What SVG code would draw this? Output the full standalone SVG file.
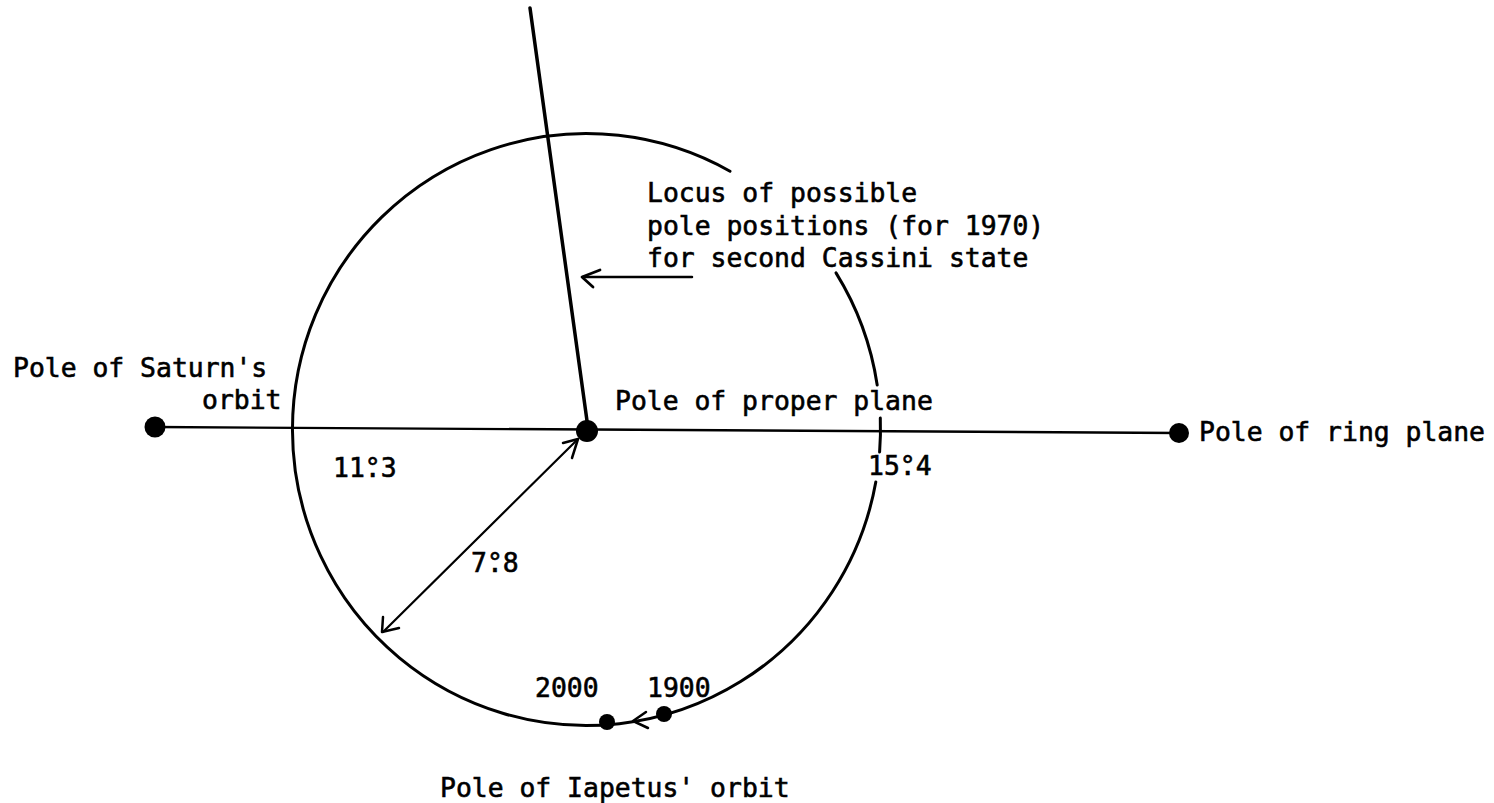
<svg xmlns="http://www.w3.org/2000/svg" width="1494" height="803" viewBox="0 0 1494 803">
<style>
text{font-family:"DejaVu Sans Mono","Liberation Mono",monospace;font-size:26.4px;fill:#000;stroke:#000;stroke-width:0.6px}
.ln{stroke:#000;fill:none;stroke-linecap:round;stroke-linejoin:round}
</style>
<rect width="1494" height="803" fill="#fff"/>
<g id="connectors">
<line class="ln" x1="155" y1="427" x2="1178" y2="433" stroke-width="2.4"/>
<line class="ln" x1="530" y1="8" x2="588" y2="428" stroke-width="3.5"/>
<polyline class="ln" points="692,277 583,277" stroke-width="2.5"/>
<polyline class="ln" points="600,270 582,277 593,287" stroke-width="2.8"/>
<line class="ln" x1="577" y1="440" x2="383" y2="632" stroke-width="2.2"/>
<polyline class="ln" points="563,443 578,439 572,458" stroke-width="2.5"/>
<polyline class="ln" points="383,617 382,632 399,628" stroke-width="2.5"/>
<polyline class="ln" points="646,712 633,721 648,728" stroke-width="2.5"/>
</g>
<g id="locus">
<path class="ln" stroke-width="3" d="M836,272.9 A294,296 0 0 1 877.2,385"/>
<path class="ln" stroke-width="3" d="M880.3,418 A294,296 0 0 1 879.6,452"/>
<path class="ln" stroke-width="3" d="M875.8,482 A294,296 0 1 1 730,171.2"/>
<text x="647" y="202">Locus of possible</text>
<text x="647" y="235">pole positions (for 1970)</text>
<text x="647" y="267">for second Cassini state</text>
</g>
<g id="saturn-pole">
<circle cx="155" cy="427" r="10.5"/>
<text x="13" y="377">Pole of Saturn's</text>
<text x="202" y="409">orbit</text>
</g>
<g id="proper-pole">
<circle cx="587" cy="431" r="11"/>
<text x="615" y="410">Pole of proper plane</text>
</g>
<g id="ring-pole">
<circle cx="1179" cy="433" r="10"/>
<text x="1199" y="441">Pole of ring plane</text>
</g>
<g id="angles">
<text x="333" y="477">11<tspan>°</tspan><tspan dx="-15.9">.</tspan>3</text>
<text x="868" y="475">15<tspan>°</tspan><tspan dx="-15.9">.</tspan>4</text>
<text x="471" y="572">7<tspan>°</tspan><tspan dx="-15.9">.</tspan>8</text>
</g>
<g id="pole-2000">
<circle cx="607" cy="722" r="8"/>
<text x="535" y="697">2000</text>
</g>
<g id="pole-1900">
<circle cx="664" cy="714" r="8"/>
<text x="647" y="697">1900</text>
</g>
<g id="iapetus-label">
<text x="440" y="797">Pole of Iapetus' orbit</text>
</g>
</svg>
